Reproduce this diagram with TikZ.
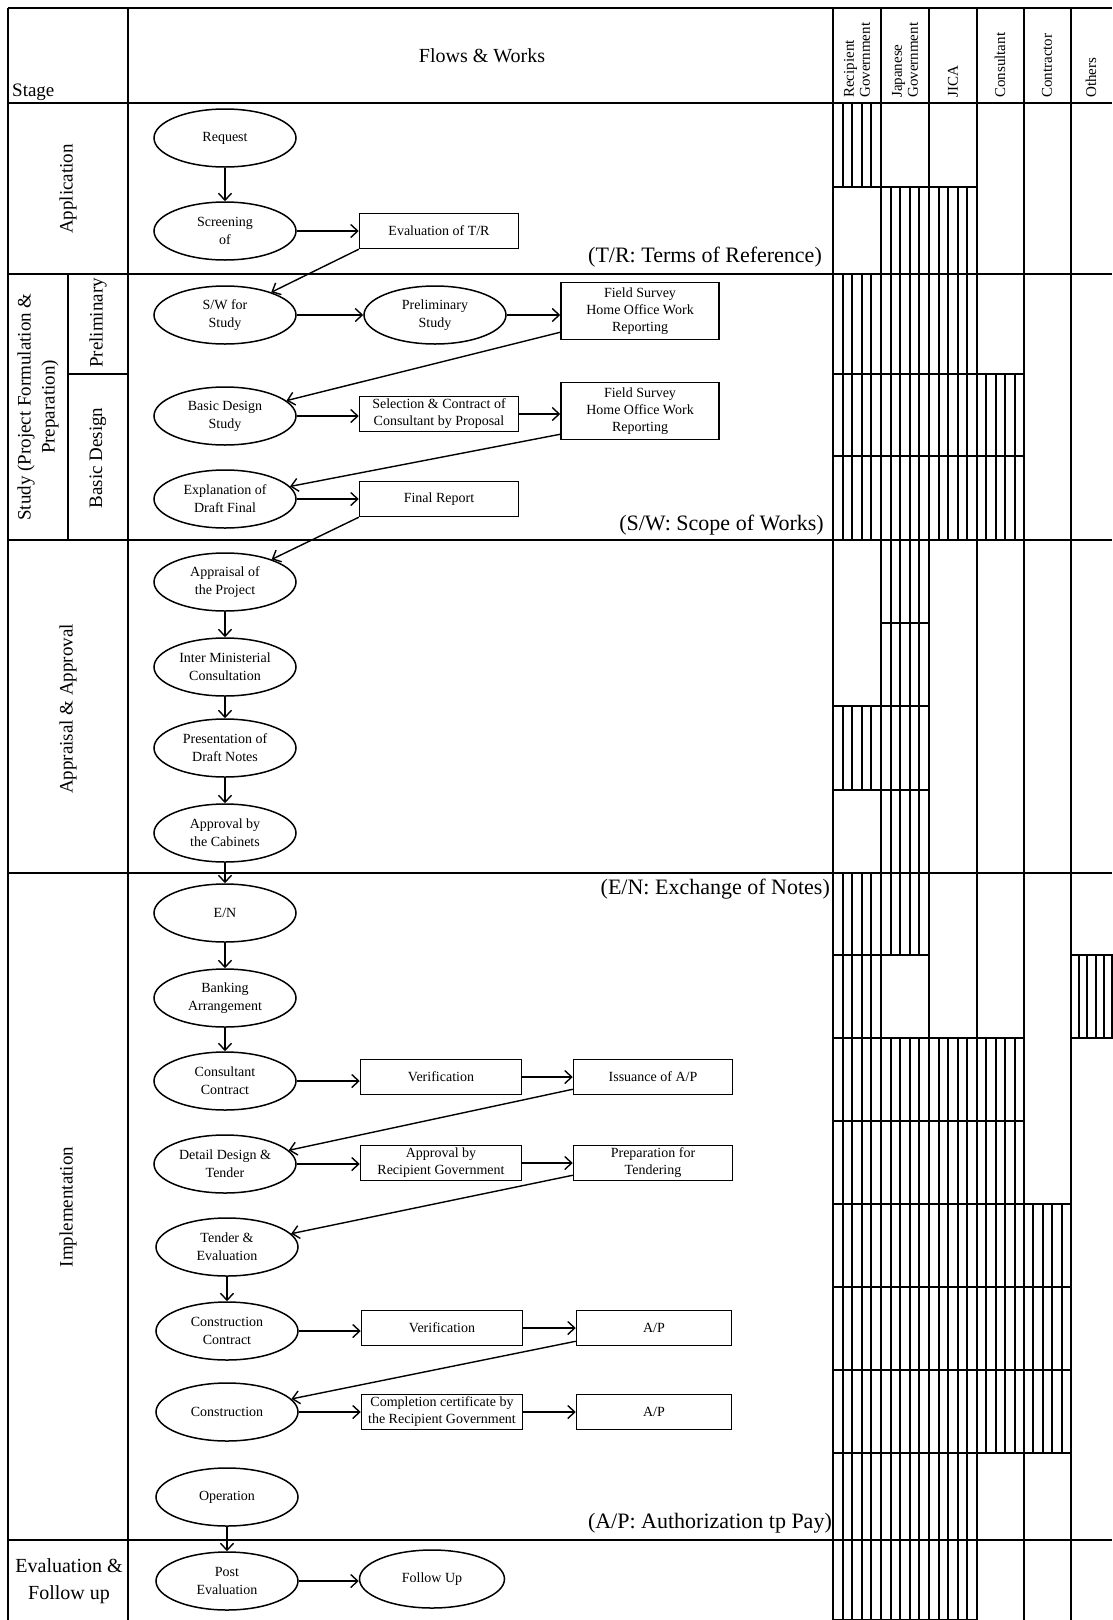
\documentclass[tikz,border=0pt]{standalone}
\usepackage{fontspec}
\setmainfont{Liberation Serif}
\usetikzlibrary{arrows.meta,positioning,shapes.geometric}

\begin{document}
\begin{tikzpicture}[x=1pt,y=-1pt,
  grid/.style={line width=1.9pt},
  cell/.style={line width=1.9pt},
  hatch/.style={line width=1.9pt},
  stage/.style={font=\fontsize{19}{24}\selectfont,align=center,inner sep=0pt},
  actor/.style={rotate=90,anchor=west,font=\fontsize{15}{16}\selectfont,align=left,inner sep=0pt},
  flow/.style={ellipse,draw,line width=1.5pt,minimum width=142pt,minimum height=58pt,inner sep=0pt,
    font=\fontsize{14}{18}\selectfont,align=center},
  work/.style={draw,line width=1.5pt,minimum width=159pt,minimum height=35pt,inner sep=1pt,
    font=\fontsize{14}{17}\selectfont,align=center},
  note/.style={anchor=base east,font=\fontsize{22}{26}\selectfont,inner sep=0pt},
  arr/.style={-{Straight Barb[length=7pt,width=13pt]},line width=1.4pt}]
\useasboundingbox (0,0) rectangle (1112,1620);

\foreach \ya/\yb/\ca/\cb in {103/187/1/1, 187/274/2/3, 274/374/1/3, 374/456/1/4, 456/540/1/4,
    540/623/2/2, 623/706/2/2, 706/790/1/2, 790/873/2/2, 873/955/1/2, 955/1038/1/1, 955/1038/6/6,
    1038/1121/1/4, 1121/1204/1/4, 1204/1287/1/5, 1287/1370/1/5, 1370/1453/1/5,
    1453/1540/1/3, 1540/1620/1/3}
  \foreach \c in {\ca,...,\cb}{
    \pgfmathsetmacro\xa{{833,881,929,977,1024,1071,1112}[\c-1]}
    \pgfmathsetmacro\xb{{833,881,929,977,1024,1071,1112}[\c]}
    \draw[cell] (\xa,\ya) rectangle (\xb,\yb);
    \foreach \k in {1,...,4}
      \draw[hatch] ({\xa+\k*(\xb-\xa)/5},\ya) -- ({\xa+\k*(\xb-\xa)/5},\yb);
  }

\draw[grid] (8,8) -- (1112,8);
\draw[grid] (8,8) -- (8,1620);
\draw[grid] (128,8) -- (128,1620);
\foreach \x in {833,881,929,977,1024,1071}
  \draw[grid] (\x,8) -- (\x,1620);
\foreach \y in {103,274,540,873,1540}
  \draw[grid] (8,\y) -- (1112,\y);
\draw[grid] (68,274) -- (68,540);
\draw[grid] (68,374) -- (128,374);

\node[stage,anchor=base west] (stg) at (12,96) {Stage};
\node[stage,font=\fontsize{20}{24}\selectfont] (fw) at (482,56) {Flows \& Works};
\node[stage,rotate=90] (app) at (68,189) {Application};
\node[stage,rotate=90] (stu) at (38,407) {Study (Project Formulation \&\\Preparation)};
\node[stage,rotate=90] (pre) at (98,323) {Preliminary};
\node[stage,rotate=90] (bas) at (98,458) {Basic Design};
\node[stage,rotate=90] (apr) at (68,709) {Appraisal \& Approval};
\node[stage,rotate=90] (imp) at (68,1207) {Implementation};
\node[stage,font=\fontsize{20}{27}\selectfont] (eva) at (69,1581) {Evaluation \&\\Follow up};

\node[actor] (hrg) at (857,98) {Recipient\\Government};
\node[actor] (hjg) at (905,98) {Japanese\\Government};
\node[actor] (hji) at (953,98) {JICA};
\node[actor] (hco) at (1000,98) {Consultant};
\node[actor] (hct) at (1047,98) {Contractor};
\node[actor] (hot) at (1091,98) {Others};

\node[flow] (req) at (225,138) {Request};
\node[flow] (scr) at (225,231) {Screening\\of};
\node[flow] (swf) at (225,315) {S/W for\\Study};
\node[flow] (pst) at (435,315) {Preliminary\\Study};
\node[flow] (bds) at (225,416) {Basic Design\\Study};
\node[flow] (exd) at (225,499) {Explanation of\\Draft Final};
\node[flow] (aps) at (225,582) {Appraisal of\\the Project};
\node[flow] (ims) at (225,667) {Inter Ministerial\\Consultation};
\node[flow] (pdn) at (225,748) {Presentation of\\Draft Notes};
\node[flow] (abc) at (225,833) {Approval by\\the Cabinets};
\node[flow] (exn) at (225,913) {E/N};
\node[flow] (bnk) at (225,998) {Banking\\Arrangement};
\node[flow] (ccn) at (225,1081) {Consultant\\Contract};
\node[flow] (ddt) at (225,1164) {Detail Design \&\\Tender};
\node[flow] (tev) at (227,1247) {Tender \&\\Evaluation};
\node[flow] (cct) at (227,1331) {Construction\\Contract};
\node[flow] (con) at (227,1412) {Construction};
\node[flow] (opr) at (227,1497) {Operation};
\node[flow] (pev) at (227,1581) {Post\\Evaluation};
\node[flow,minimum width=145pt] (fup) at (432,1579) {Follow Up};

\node[work] (etr) at (439,231) {Evaluation of T/R};
\node[work,minimum width=158pt,minimum height=57pt] (fs1) at (640,311) {Field Survey\\Home Office Work\\Reporting};
\node[work] (scp) at (439,414) {Selection \& Contract of\\Consultant by Proposal};
\node[work,minimum width=158pt,minimum height=57pt] (fs2) at (640,411) {Field Survey\\Home Office Work\\Reporting};
\node[work] (frp) at (439,499) {Final Report};
\node[work,minimum width=161pt] (vr1) at (441,1077) {Verification};
\node[work] (iap) at (653,1077) {Issuance of A/P};
\node[work,minimum width=161pt] (arg) at (441,1163) {Approval by\\Recipient Government};
\node[work] (ptd) at (653,1163) {Preparation for\\Tendering};
\node[work,minimum width=161pt] (vr2) at (442,1328) {Verification};
\node[work,minimum width=155pt] (ap1) at (654,1328) {A/P};
\node[work,minimum width=161pt] (ccr) at (442,1412) {Completion certificate by\\the Recipient Government};
\node[work,minimum width=155pt] (ap2) at (654,1412) {A/P};

\node[note] (ntr) at (822,262) {(T/R: Terms of Reference)};
\node[note] (nsw) at (824,530) {(S/W: Scope of Works)};
\node[note] (nen) at (830,894) {(E/N: Exchange of Notes)};
\node[note] (nap) at (832,1528) {(A/P: Authorization tp Pay)};

\foreach \a/\b in {req/scr,aps/ims,ims/pdn,pdn/abc,abc/exn,exn/bnk,bnk/ccn,tev/cct,opr/pev}
  \draw[arr] (\a) -- (\b);
\foreach \a/\b in {scr/etr,swf/pst,pst/fs1,bds/scp,scp/fs2,exd/frp,ccn/vr1,vr1/iap,ddt/arg,arg/ptd,
    cct/vr2,vr2/ap1,con/ccr,ccr/ap2,pev/fup}
  \draw[arr] (\a.east) -- (\a.east -| \b.west);
\draw[arr] (etr.south west) -- (swf);
\draw[arr] ([yshift=8pt]fs1.south west) -- (bds);
\draw[arr] ([yshift=6pt]fs2.south west) -- (exd);
\draw[arr] (frp.south west) -- (aps);
\draw[arr] ([yshift=6pt]iap.south west) -- (ddt);
\draw[arr] ([yshift=6pt]ptd.south west) -- (tev);
\draw[arr] ([yshift=5pt]ap1.south west) -- (con);
\end{tikzpicture}
\end{document}
